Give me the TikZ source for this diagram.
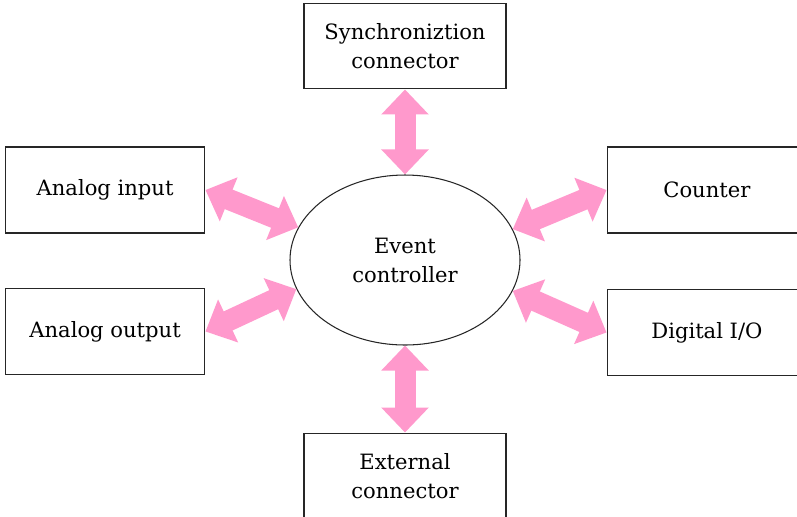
\documentclass[tikz,border=0pt]{standalone}
\usepackage{tikz}
\usetikzlibrary{shapes, arrows.meta, positioning, shapes.geometric}
\usepackage{xcolor}
\usepackage{fontspec}
\setmainfont{DejaVu Serif}
\definecolor{arrpink}{RGB}{255, 153, 204}

\begin{document}
\begin{tikzpicture}[
  unitbox/.style = {rectangle, draw=black!85, line width=1pt,
                    minimum width=3.98cm, minimum height=1.72cm,
                    align=center, font=\fontsize{12}{16.5}\selectfont},
  ctlshape/.style = {ellipse, draw=black!85, line width=0.6pt, inner sep=0pt,
                     minimum width=4.6cm, minimum height=3.4cm,
                     align=center, font=\fontsize{12}{16.5}\selectfont},
  dblarr/.style = {{Triangle[width=0.92cm, length=0.5cm]}-{Triangle[width=0.92cm, length=0.5cm]},
                   line width=0.42cm, arrpink}
]
\useasboundingbox (0,0) rectangle (15.94,-10.32);
\node[ctlshape] (ctl) at (8.1,-5.2) {Event\\controller};
\node[unitbox, minimum width=4.04cm, minimum height=1.7cm, above=1.7cm of ctl] (sync) {Synchroniztion\\connector};
\node[unitbox, minimum width=4.04cm, minimum height=1.7cm, below=1.74cm of ctl] (ext) {External\\connector};
\node[unitbox, left=1.68cm of ctl, yshift=1.4cm]  (ain)  {Analog input};
\node[unitbox, left=1.68cm of ctl, yshift=-1.43cm] (aout) {Analog output};
\node[unitbox, right=1.72cm of ctl, yshift=1.4cm]  (cnt)  {Counter};
\node[unitbox, right=1.72cm of ctl, yshift=-1.45cm] (dio)  {Digital I/O};
\draw[dblarr] (sync.south) -- (ctl.north);
\draw[dblarr] (ext.north) -- (ctl.south);
\draw[dblarr] (ain.east) -- (ctl.163);
\draw[dblarr] (aout.east) -- (ctl.195);
\draw[dblarr] (cnt.west) -- (ctl.16);
\draw[dblarr] (dio.west) -- (ctl.344);
\end{tikzpicture}
\end{document}
